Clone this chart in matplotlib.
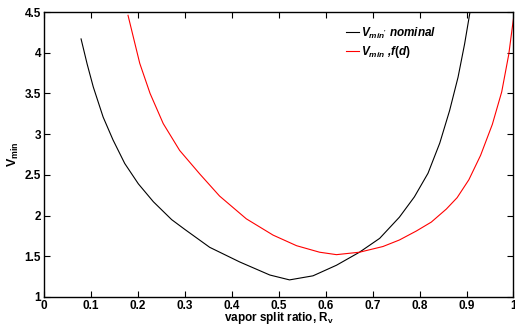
import matplotlib
matplotlib.use("Agg")
import matplotlib.pyplot as plt

# data
ratio_nom = [0.079, 0.092, 0.105, 0.126, 0.147, 0.172, 0.201, 0.233, 0.272, 0.30,
             0.353, 0.417, 0.481, 0.523, 0.573, 0.623, 0.672, 0.715, 0.757, 0.789,
             0.818, 0.843, 0.864, 0.882, 0.896, 0.908]
vmin_nom = [4.17, 3.86, 3.58, 3.21, 2.93, 2.64, 2.39, 2.17, 1.95, 1.83,
            1.61, 1.43, 1.27, 1.21, 1.26, 1.39, 1.55, 1.72, 1.98, 2.23,
            2.52, 2.89, 3.29, 3.70, 4.11, 4.52]

ratio_fd = [0.179, 0.190, 0.204, 0.226, 0.254, 0.289, 0.332, 0.374, 0.431, 0.488,
            0.538, 0.587, 0.623, 0.672, 0.722, 0.757, 0.793, 0.825, 0.857, 0.88,
            0.905, 0.93, 0.955, 0.975, 0.99, 1.0]
vmin_fd = [4.46, 4.20, 3.87, 3.50, 3.13, 2.80, 2.51, 2.24, 1.96, 1.76,
           1.63, 1.55, 1.52, 1.55, 1.62, 1.70, 1.81, 1.92, 2.08, 2.22,
           2.44, 2.74, 3.12, 3.52, 3.98, 4.42]

xticks = [0, 0.1, 0.2, 0.3, 0.4, 0.5, 0.6, 0.7, 0.8, 0.9, 1]
xtick_labels = ["0", "0.1", "0.2", "0.3", "0.4", "0.5", "0.6", "0.7", "0.8", "0.9", "1"]
yticks = [1, 1.5, 2, 2.5, 3, 3.5, 4, 4.5]
ytick_labels = ["1", "1.5", "2", "2.5", "3", "3.5", "4", "4.5"]

plt.rcParams["font.family"] = "Liberation Sans"
plt.rcParams["font.weight"] = "bold"
plt.rcParams["mathtext.fontset"] = "custom"
plt.rcParams["mathtext.rm"] = "Liberation Sans:bold"
plt.rcParams["mathtext.it"] = "Liberation Sans:italic:bold"
plt.rcParams["mathtext.bf"] = "Liberation Sans:bold"

fig = plt.figure(figsize=(5.15, 3.26), dpi=100)
ax = fig.add_axes([0.0854, 0.089, 0.9116, 0.874])

ax.plot(ratio_nom, vmin_nom, color="black", lw=0.8, label=r"$V_{min'}$ nominal")
ax.plot(ratio_fd, vmin_fd, color="red", lw=0.8, label=r"$V_{min}$ ,$f(d)$")

ax.set_xlim(0, 1)
ax.set_ylim(1, 4.5)
ax.set_xticks(xticks)
ax.set_xticklabels(xtick_labels, fontweight="bold")
ax.set_yticks(yticks)
ax.set_yticklabels(ytick_labels, fontweight="bold")
ax.tick_params(direction="in", length=4, width=0.8, top=True, right=True,
               labelsize=8.5, pad=2)
for s in ax.spines.values():
    s.set_linewidth(1.0)

ax.set_xlabel(r"vapor split ratio, R$_\mathrm{v}$", fontsize=8.5,
              fontweight="bold", labelpad=-1)
ax.set_ylabel(r"V$_\mathrm{min}$", fontsize=9, fontweight="bold", labelpad=3)

leg = ax.legend(loc="upper left", bbox_to_anchor=(0.62, 0.99), frameon=False,
                handlelength=1.1, handletextpad=0.2, labelspacing=0.3,
                prop={"size": 8.5, "style": "italic", "weight": "bold"})

fig.savefig("out.png", dpi=100)
